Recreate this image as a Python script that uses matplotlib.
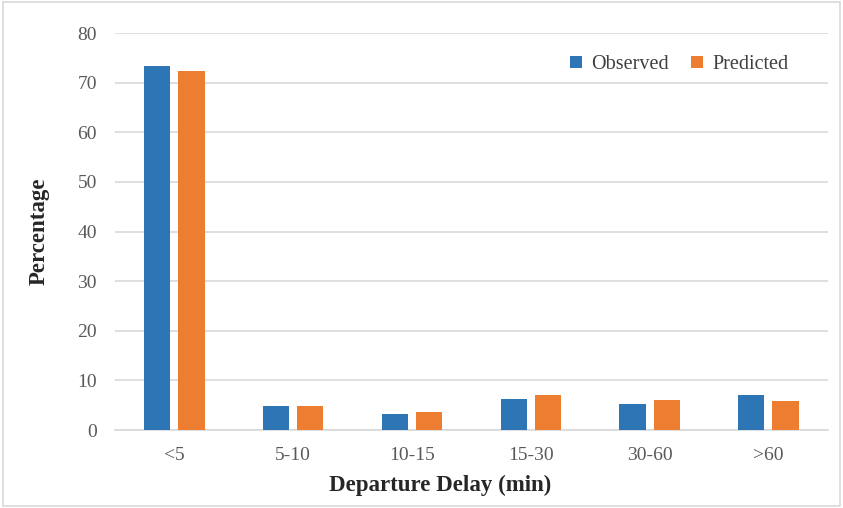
import matplotlib
matplotlib.use("Agg")
import matplotlib.pyplot as plt
import numpy as np
from matplotlib.patches import Rectangle

categories = ["<5", "5-10", "10-15", "15-30", "30-60", ">60"]
observed = [73.4, 4.9, 3.2, 6.3, 5.3, 7.0]
predicted = [72.4, 4.9, 3.6, 7.0, 6.1, 5.9]
yticks = [0, 10, 20, 30, 40, 50, 60, 70, 80]

plt.rcParams["font.family"] = ["Liberation Serif", "DejaVu Serif"]

fig = plt.figure(figsize=(8.43, 5.08), dpi=100)
ax = fig.add_axes([0.1364, 0.1535, 0.8456, 0.7815])

x = np.arange(len(categories))
w = 0.22
gap = 0.067
ax.bar(x - (w + gap) / 2, observed, w, color="#2E75B6", label="Observed", zorder=3)
ax.bar(x + (w + gap) / 2, predicted, w, color="#ED7D31", label="Predicted", zorder=3)

ax.set_xlim(-0.5, len(categories) - 0.5)
ax.set_ylim(0, 80)
ax.set_yticks(yticks)
ax.set_xticks(x)
ax.set_xticklabels(categories)
ax.yaxis.grid(True, color="#D9D9D9", linewidth=1.2, zorder=0)
ax.set_axisbelow(True)
for s in ["top", "right", "left"]:
    ax.spines[s].set_visible(False)
ax.spines["bottom"].set_color("#D9D9D9")
ax.spines["bottom"].set_linewidth(1.2)
ax.tick_params(axis="both", length=0, labelsize=14, colors="#595959")
ax.tick_params(axis="x", pad=12)
ax.tick_params(axis="y", pad=13)

ax.set_xlabel("Departure Delay (min)", fontsize=16.5, fontweight="bold", color="#262626")
ax.xaxis.set_label_coords(0.456, -0.112)
ax.set_ylabel("Percentage", fontsize=16.5, fontweight="bold", color="#262626", labelpad=20)

leg = ax.legend(loc="upper right", bbox_to_anchor=(0.97, 0.99), ncol=2, frameon=False,
                fontsize=14.5, handlelength=0.6, handleheight=0.6, handletextpad=0.45,
                columnspacing=1.1)
for t in leg.get_texts():
    t.set_color("#404040")

fig.patches.append(Rectangle((0.003, 0.004), 0.994, 0.992, transform=fig.transFigure,
                             fill=False, edgecolor="#D9D9D9", linewidth=1.2))

fig.savefig("out.png", dpi=100)
